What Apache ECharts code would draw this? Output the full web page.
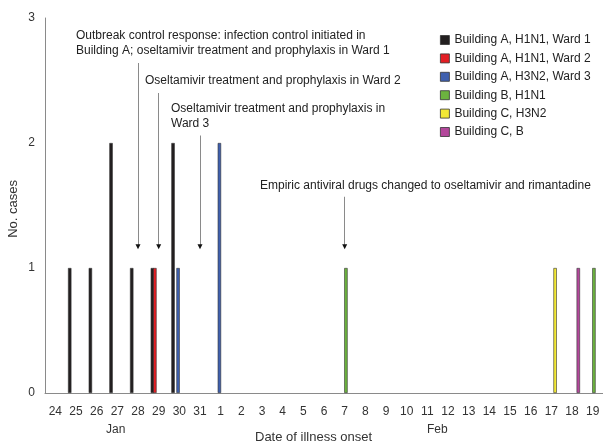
<!DOCTYPE html>
<html>
<head>
<meta charset="utf-8">
<script src="https://cdn.jsdelivr.net/npm/echarts@6/dist/echarts.min.js"></script>
<style>
html,body{margin:0;padding:0;background:#fff;}
#chart{width:603px;height:444px;}
</style>
</head>
<body>
<div id="chart"></div>
<script>
// Categories: illness onset dates (Jan 24 – Feb 19)
const dates = ['24','25','26','27','28','29','30','31','1','2','3','4','5','6','7','8','9','10','11','12','13','14','15','16','17','18','19'];
const yTicks = [0, 1, 2, 3];

// Series values (cases per day), null = no case
const wardA1H1N1 = [null,1,1,2,1,1,2,null,null,null,null,null,null,null,null,null,null,null,null,null,null,null,null,null,null,null,null];
const wardA2H1N1 = [null,null,null,null,null,1,null,null,null,null,null,null,null,null,null,null,null,null,null,null,null,null,null,null,null,null,null];
const wardA3H3N2 = [null,null,null,null,null,null,1,null,2,null,null,null,null,null,null,null,null,null,null,null,null,null,null,null,null,null,null];
const bldgBH1N1  = [null,null,null,null,null,null,null,null,null,null,null,null,null,null,1,null,null,null,null,null,null,null,null,null,null,null,1];
const bldgCH3N2  = [null,null,null,null,null,null,null,null,null,null,null,null,null,null,null,null,null,null,null,null,null,null,null,null,1,null,null];
const bldgCB     = [null,null,null,null,null,null,null,null,null,null,null,null,null,null,null,null,null,null,null,null,null,null,null,null,null,1,null];

const seriesNames = ['Building A, H1N1, Ward 1','Building A, H1N1, Ward 2','Building A, H3N2, Ward 3','Building B, H1N1','Building C, H3N2','Building C, B'];

// Intervention dates (annotation arrows)
const eventDates = ['28','29','31','7'];
const eventTexts = [
  'Outbreak control response: infection control initiated in\nBuilding A; oseltamivir treatment and prophylaxis in Ward 1',
  'Oseltamivir treatment and prophylaxis in Ward 2',
  'Oseltamivir treatment and prophylaxis in\nWard 3',
  'Empiric antiviral drugs changed to oseltamivir and rimantadine'
];

const colors = ['#231f20','#e31e24','#3f60ae','#6cb33f','#f2e835','#b3479b'];
const values = [wardA1H1N1, wardA2H1N1, wardA3H3N2, bldgBH1N1, bldgCH3N2, bldgCB];
const FONT = "'Liberation Sans', Arial, sans-serif";

const arrowTop = [2.64, 2.4, 2.06, 1.57];
const arrowTip = 1.16;

const series = values.map((v, i) => ({
  name: seriesNames[i],
  type: 'bar',
  data: v,
  barWidth: 3.4,
  barGap: '-26%',
  itemStyle: { color: colors[i], borderColor: '#333', borderWidth: 0.6 },
  emphasis: { disabled: true },
  animation: false
}));

// Helper series (no data) carrying the annotation arrows at category centres
series.push({
  name: 'events',
  type: 'line',
  data: [],
  silent: true,
  animation: false,
  markLine: {
    silent: true,
    symbol: ['none', 'none'],
    lineStyle: { color: '#8a8a8a', width: 1, type: 'solid' },
    label: { show: false },
    data: eventDates.map((d, i) => [
      { coord: [d, arrowTop[i]] },
      { coord: [d, arrowTip + 0.02] }
    ]),
    animation: false
  },
  markPoint: {
    silent: true,
    symbol: 'triangle',
    symbolSize: [5, 5],
    symbolRotate: 180,
    itemStyle: { color: '#111' },
    label: { show: false },
    data: eventDates.map(d => ({ coord: [d, arrowTip + 0.01] })),
    animation: false
  }
});

const chart = echarts.init(document.getElementById('chart'), null, { renderer: 'canvas' });
chart.setOption({
  backgroundColor: '#fff',
  animation: false,
  textStyle: { fontFamily: FONT },
  grid: { left: 45, top: 18, width: 562, bottom: 51, containLabel: false },
  legend: {
    orient: 'vertical',
    left: 435,
    top: 29,
    itemWidth: 9,
    itemHeight: 9,
    itemGap: 6.4,
    icon: 'rect',
    selectedMode: false,
    data: seriesNames,
    textStyle: { fontFamily: FONT, fontSize: 12, color: '#222' },
    itemStyle: { borderColor: '#333', borderWidth: 0.8 }
  },
  xAxis: {
    type: 'category',
    data: dates,
    axisLine: { show: true, lineStyle: { color: '#8a8a8a', width: 1 } },
    axisTick: { show: false },
    axisLabel: { interval: 0, fontFamily: FONT, fontSize: 12, color: '#333', margin: 13 },
    splitLine: { show: false }
  },
  yAxis: {
    type: 'value',
    min: yTicks[0],
    max: yTicks[yTicks.length - 1],
    interval: 1,
    axisLine: { show: true, lineStyle: { color: '#8a8a8a', width: 1 } },
    axisTick: { show: false },
    axisLabel: { fontFamily: FONT, fontSize: 12, color: '#333', margin: 10 },
    splitLine: { show: false }
  },
  graphic: [
    { type: 'text', left: 76, top: 28, style: { text: eventTexts[0], font: '12px ' + FONT, fill: '#222', lineHeight: 15 } },
    { type: 'text', left: 145, top: 73, style: { text: eventTexts[1], font: '12px ' + FONT, fill: '#222', lineHeight: 15 } },
    { type: 'text', left: 171, top: 101, style: { text: eventTexts[2], font: '12px ' + FONT, fill: '#222', lineHeight: 15 } },
    { type: 'text', left: 260, top: 178, style: { text: eventTexts[3], font: '12px ' + FONT, fill: '#222', lineHeight: 15 } },
    { type: 'text', left: 106, top: 424, style: { text: 'Jan', font: '12px ' + FONT, fill: '#333' } },
    { type: 'text', left: 427, top: 424, style: { text: 'Feb', font: '12px ' + FONT, fill: '#333' } },
    { type: 'text', left: 255, top: 431, style: { text: 'Date of illness onset', font: '13px ' + FONT, fill: '#333' } },
    { type: 'text', left: 7, top: 180, rotation: Math.PI / 2, style: { text: 'No. cases', font: '13px ' + FONT, fill: '#333' } }
  ],
  series: series
});
</script>
</body>
</html>
